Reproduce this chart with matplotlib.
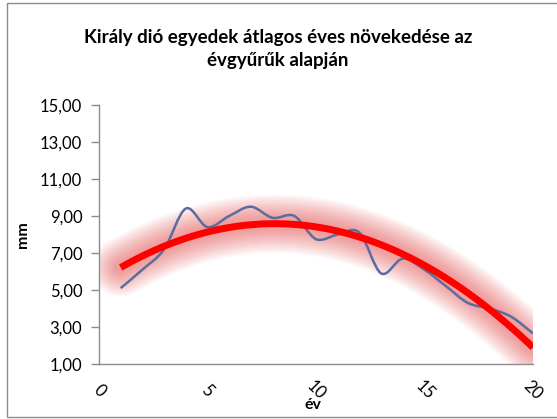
import numpy as np
import matplotlib
matplotlib.use("Agg")
import matplotlib.pyplot as plt
from matplotlib.path import Path
from matplotlib.patches import PathPatch, Rectangle
from matplotlib.ticker import FuncFormatter

plt.rcParams['font.family'] = ['Lato', 'DejaVu Sans']

# évek és átlagos növekedés (mm)
ev = [1, 2, 3, 4, 5, 6, 7, 8, 9, 10, 11, 12, 13, 14, 15, 16, 17, 18, 19, 20]
noveked = [5.10, 6.10, 7.20, 9.40, 8.40, 9.00, 9.50, 8.90, 9.00, 7.75,
           8.00, 8.10, 5.90, 6.70, 6.10, 5.20, 4.30, 4.00, 3.55, 2.65]
y_ticks = [1, 3, 5, 7, 9, 11, 13, 15]
x_ticks = [0, 5, 10, 15, 20]
cim = "Király dió egyedek átlagos éves növekedése az\névgyűrűk alapján"


# Excel-szerű simított vonal (Bezier kontrollpontokkal)
def smooth_path(xs, ys):
    pts = np.column_stack([xs, ys]).astype(float)
    verts = [pts[0]]
    codes = [Path.MOVETO]
    n = len(pts)
    for i in range(n - 1):
        p0 = pts[i - 1] if i > 0 else pts[i]
        p1 = pts[i]
        p2 = pts[i + 1]
        p3 = pts[i + 2] if i + 2 < n else pts[i + 1]
        c1 = p1 + (p2 - p0) / 6.0
        c2 = p2 - (p3 - p1) / 6.0
        verts += [c1, c2, p2]
        codes += [Path.CURVE4] * 3
    return Path(verts, codes)


fig = plt.figure(figsize=(5.57, 4.19), dpi=100)
fig.patches.append(Rectangle((6.5 / 557, 0.004), 1.2, 0.99, transform=fig.transFigure,
                             fill=False, edgecolor="#8c8c8c", linewidth=1.0))
ax = fig.add_axes([0.1777, 0.1313, 0.9569 - 0.1777, 0.7494 - 0.1313])

# polinomiális trendvonal (másodfokú)
coef = np.polyfit(ev, noveked, 2)
tx = np.linspace(1, 20, 200)
ty = np.polyval(coef, tx)

# ragyogás a trendvonal körül
for w in np.linspace(42, 8, 18):
    ax.plot(tx, ty, color="#f04040", alpha=0.035, linewidth=w,
            solid_capstyle="round", zorder=1)

ax.add_patch(PathPatch(smooth_path(ev, noveked), facecolor="none",
                       edgecolor="#5a6d9e", linewidth=1.8, zorder=2))
ax.plot(tx, ty, color="#ff0000", linewidth=5, solid_capstyle="butt", zorder=3)

ax.set_xlim(0, 20)
ax.set_ylim(1, 15)
ax.set_yticks(y_ticks)
ax.set_xticks(x_ticks)
ax.yaxis.set_major_formatter(FuncFormatter(lambda v, p: f"{v:.2f}".replace(".", ",")))

for s in ["top", "right"]:
    ax.spines[s].set_visible(False)
for s in ["left", "bottom"]:
    ax.spines[s].set_color("#8c8c8c")
    ax.spines[s].set_linewidth(1.0)

ax.tick_params(axis="y", direction="out", length=6, width=1, color="#8c8c8c",
               labelsize=12, pad=6, labelcolor="#000000")
ax.tick_params(axis="x", length=0, labelsize=12, pad=19, labelcolor="#000000")
for lab in ax.get_xticklabels():
    lab.set_rotation(-45)
    lab.set_ha("center")
    lab.set_va("center")

ax.set_xlabel("év", fontsize=11.5, fontweight="bold", va="center")
ax.xaxis.set_label_coords(0.493, -0.158)
ax.set_ylabel("mm", fontsize=11.5, fontweight="bold", va="center")
ax.yaxis.set_label_coords(-0.175, 0.5)

fig.text(278 / 557, 1 - 49 / 419, cim, ha="center", va="center",
         fontsize=13.5, fontweight="bold", linespacing=1.4)

fig.savefig("out.png", dpi=100)
